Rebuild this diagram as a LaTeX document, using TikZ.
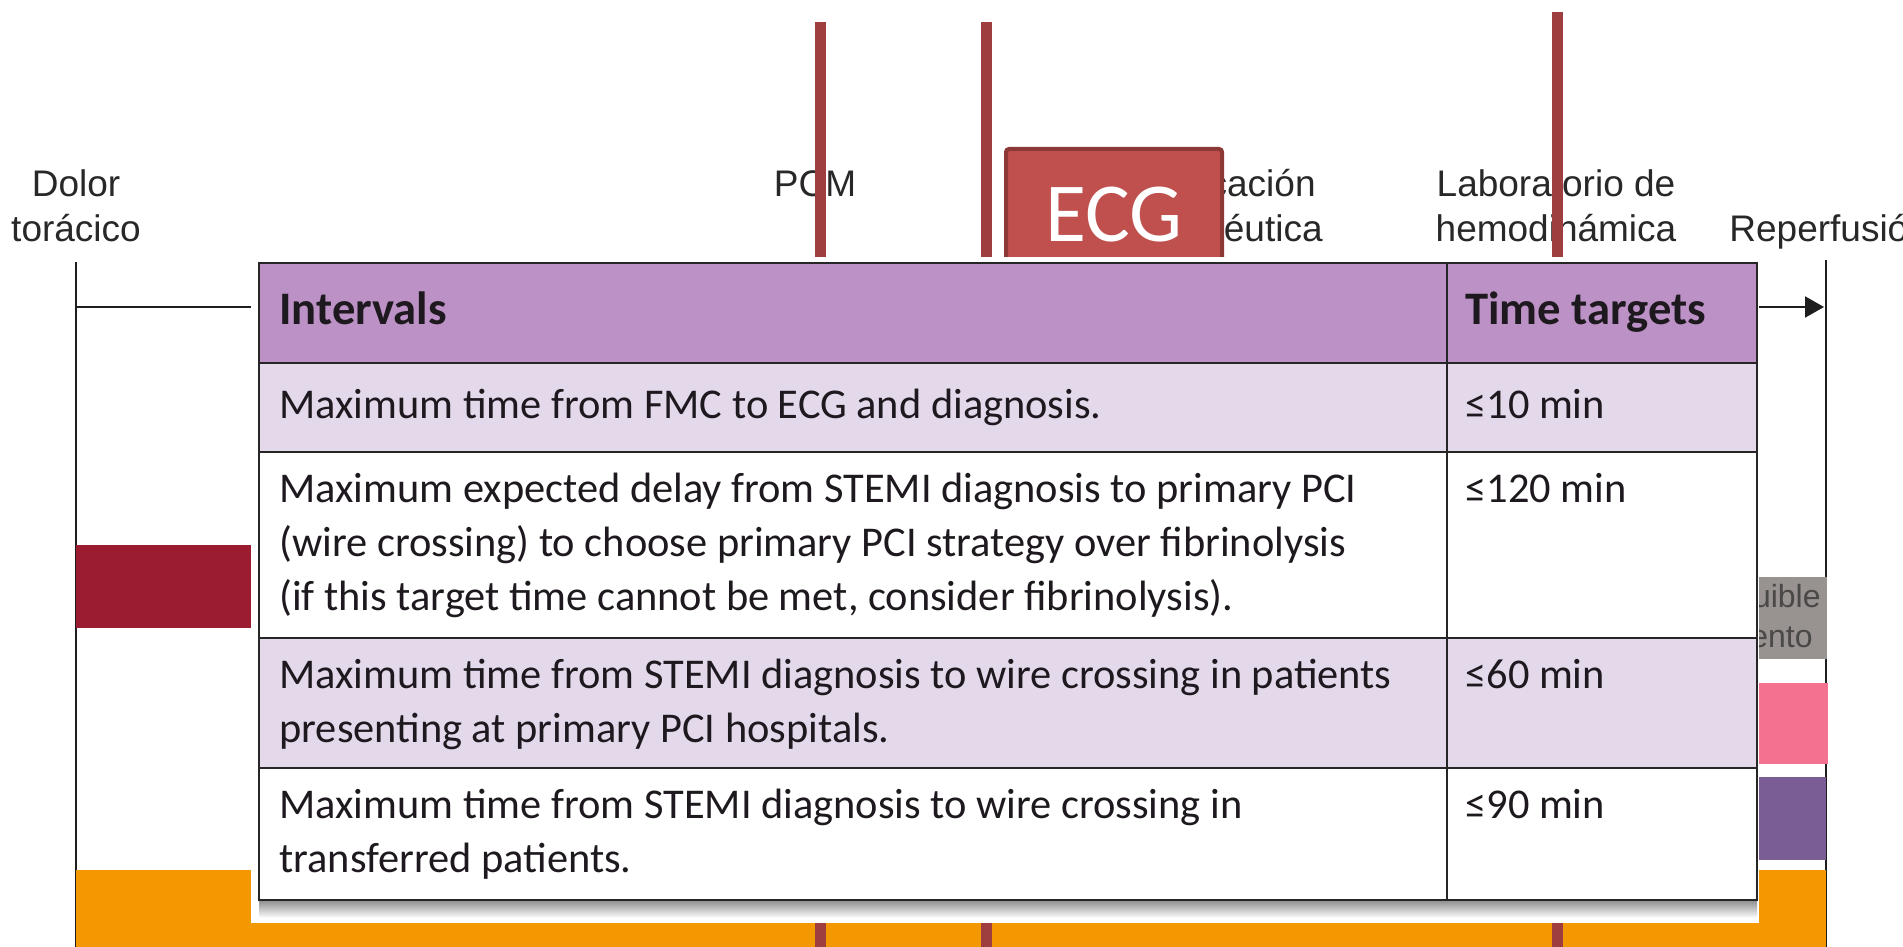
\documentclass[tikz,border=0pt]{standalone}
\usepackage{fontspec}
\setmainfont{Liberation Sans}
\newfontfamily\carl{Carlito}
\usetikzlibrary{arrows.meta}
\definecolor{labtext}{RGB}{40,40,40}
\definecolor{axisc}{RGB}{30,30,30}
\definecolor{redbar}{RGB}{158,62,62}
\definecolor{ecgfill}{RGB}{192,80,77}
\definecolor{ecgdraw}{RGB}{140,56,54}
\definecolor{crimson}{RGB}{155,27,48}
\definecolor{graybar}{RGB}{152,146,144}
\definecolor{graytxt}{RGB}{75,72,72}
\definecolor{pinkbar}{RGB}{244,114,143}
\definecolor{purplebar}{RGB}{122,93,149}
\definecolor{orangebar}{RGB}{243,152,0}
\definecolor{headfill}{RGB}{188,145,197}
\definecolor{rowfill}{RGB}{228,216,235}
\definecolor{celltext}{RGB}{30,25,30}
\begin{document}
\begin{tikzpicture}[x=0.5pt,y=-0.5pt,
  lab/.style={font=\fontsize{18.5}{22.5}\selectfont, text=labtext, inner sep=0pt},
  graytext/.style={font=\fontsize{16}{19}\selectfont, text=graytxt, inner sep=0pt},
  axisline/.style={draw=axisc, line width=1.2pt},
  redline/.style={draw=redbar, line width=5.5pt},
  hdr/.style={font=\carl\bfseries\fontsize{23.3}{27}\selectfont, text=celltext, inner sep=0pt, anchor=base west},
  cell/.style={font=\carl\fontsize{21.2}{27}\selectfont, text=celltext, inner sep=0pt, anchor=base west},
  tline/.style={draw=black!85, line width=1pt}]
\useasboundingbox (0,0) rectangle (1903,947);
\fill[white] (0,0) rectangle (1903,947);

% timeline labels
\node[lab, anchor=base] (dolor) at (76,197) {Dolor};
\node[lab, anchor=base] (toracico) at (76,242) {torácico};
\node[lab, anchor=base] (pcm) at (815,197) {PCM};
\node[lab, anchor=base east] (ind1) at (1316,197) {cación};
\node[lab, anchor=base east] (ind2) at (1323,242) {éutica};
\node[lab, anchor=base] (lab1) at (1556,197) {Laboratorio de};
\node[lab, anchor=base] (lab2) at (1556,242) {hemodinámica};
\node[lab, anchor=base west] (rep) at (1729,242) {Reperfusió};

% axis lines
\coordinate (L0) at (76,262); \coordinate (L1) at (76,947);
\coordinate (R0) at (1826,260); \coordinate (R1) at (1826,947);
\coordinate (A0) at (76,307); \coordinate (A1) at (1824,307);
\draw[axisline] (L0) -- (L1);
\draw[axisline] (R0) -- (R1);
\draw[axisc, line width=1pt, -{Triangle[length=9.5pt,width=10.5pt]}] (A0) -- (A1);

% coloured bars
\fill[crimson] (76,545) rectangle (700,628);
\fill[graybar] (1500,577) rectangle (1827,659);
\node[graytext, anchor=base east] (g1) at (1821,607) {uible};
\node[graytext, anchor=base east] (g2) at (1813,647) {ento};
\fill[pinkbar] (1500,683) rectangle (1828,764);
\fill[purplebar] (1500,777) rectangle (1826,860);
\fill[orangebar] (76,870) rectangle (1826,947);

% red vertical bars
\draw[redline] (820,22) -- (820,947);
\draw[redline] (986,22) -- (986,947);
\draw[redline] (1557,12) -- (1557,947);

% ECG box
\filldraw[fill=ecgfill, draw=ecgdraw, line width=2pt, rounded corners=1.5pt] (1006,149) rectangle (1222,290);
\node[font=\carl\fontsize{42}{48}\selectfont, text=white, inner sep=0pt, anchor=base] (ecg) at (1114,242) {ECG};

% table
\fill[white] (251,257) rectangle (1759,923);
\shade[top color=black!45, bottom color=white] (259,900) rectangle (1757,918);
\fill[headfill] (259,263) rectangle (1757,363);
\fill[rowfill] (259,363) rectangle (1757,452);
\fill[rowfill] (259,638) rectangle (1757,768);
\draw[tline] (259,263) rectangle (1757,900);
\draw[tline] (259,363) -- (1757,363);
\draw[tline] (259,452) -- (1757,452);
\draw[tline] (259,638) -- (1757,638);
\draw[tline] (259,768) -- (1757,768);
\draw[tline] (1447,263) -- (1447,900);

\node[hdr] (h1) at (279,324) {Intervals};
\node[hdr] (h2) at (1465,324) {Time targets};

\node[cell] (r1a) at (279,418) {Maximum time from FMC to ECG and diagnosis.};
\node[cell] (r1t) at (1465,418) {≤10 min};

\node[cell] (r2a) at (279,502) {Maximum expected delay from STEMI diagnosis to primary PCI};
\node[cell] (r2b) at (279,556) {(wire crossing) to choose primary PCI strategy over fibrinolysis};
\node[cell] (r2c) at (279,610) {(if this target time cannot be met, consider fibrinolysis).};
\node[cell] (r2t) at (1465,502) {≤120 min};

\node[cell] (r3a) at (279,688) {Maximum time from STEMI diagnosis to wire crossing in patients};
\node[cell] (r3b) at (279,742) {presenting at primary PCI hospitals.};
\node[cell] (r3t) at (1465,688) {≤60 min};

\node[cell] (r4a) at (279,818) {Maximum time from STEMI diagnosis to wire crossing in};
\node[cell] (r4b) at (279,872) {transferred patients.};
\node[cell] (r4t) at (1465,818) {≤90 min};
\end{tikzpicture}
\end{document}
